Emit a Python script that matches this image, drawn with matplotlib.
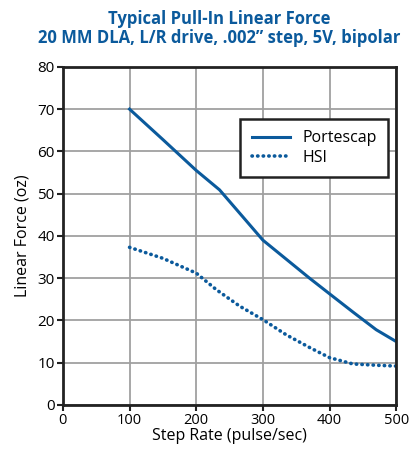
import numpy as np
import matplotlib.pyplot as plt

# valores
rate_portescap = [100, 150, 200, 235, 270, 300, 335, 370, 400, 435, 470, 500]
force_portescap = [70, 62.8, 55.5, 50.9, 44.5, 39.0, 34.5, 30.0, 26.3, 22.0, 17.8, 15.0]
rate_hsi = [100, 150, 200, 230, 265, 300, 335, 370, 400, 435, 470, 500]
force_hsi = [37.3, 34.7, 31.2, 27.3, 23.4, 20.2, 16.6, 13.6, 11.2, 9.7, 9.4, 9.2]

blue = '#0b5a9c'
plt.rcParams['font.family'] = ['Open Sans', 'DejaVu Sans']

fig = plt.figure(figsize=(4.11, 4.55), dpi=100)
ax = fig.add_axes([0.153, 0.110, 0.811, 0.743])

ax.plot(rate_portescap, force_portescap, color=blue, lw=2.2, label='Portescap')
ax.plot(rate_hsi, force_hsi, color=blue, lw=2.6, linestyle=(0, (0.1, 1.45)),
        dash_capstyle='round', label='HSI')

ax.set_xlim(0, 500)
ax.set_ylim(0, 80)
ax.set_xticks(np.arange(0, 501, 100))
ax.set_yticks(np.arange(0, 81, 10))
ax.grid(True, color='#a0a0a0', lw=1.3)
ax.set_axisbelow(True)
for s in ax.spines.values():
    s.set_linewidth(2)
    s.set_color('#222222')
ax.tick_params(labelsize=11, length=4, width=1.5, color='#222222', pad=2)
ax.tick_params(axis='x', labelsize=10.5)

ax.set_xlabel('Step Rate (pulse/sec)', fontsize=11.5, labelpad=0)
ax.set_ylabel('Linear Force (oz)', fontsize=11.5, labelpad=5)
fig.text(0.533, 0.978, 'Typical Pull-In Linear Force\n20 MM DLA, L/R drive, .002\u201d step, 5V, bipolar',
         ha='center', va='top', fontsize=12, fontweight='bold', color=blue,
         linespacing=1.1)

leg = ax.legend(loc='upper right', bbox_to_anchor=(0.976, 0.845), fontsize=11.5,
                frameon=True, fancybox=False, handlelength=2.4, borderpad=0.7,
                labelspacing=0.2, handletextpad=0.8, borderaxespad=0)
leg.get_frame().set_edgecolor('#222222')
leg.get_frame().set_linewidth(1.8)
leg.get_frame().set_alpha(1)

fig.savefig('out.png', dpi=100)
